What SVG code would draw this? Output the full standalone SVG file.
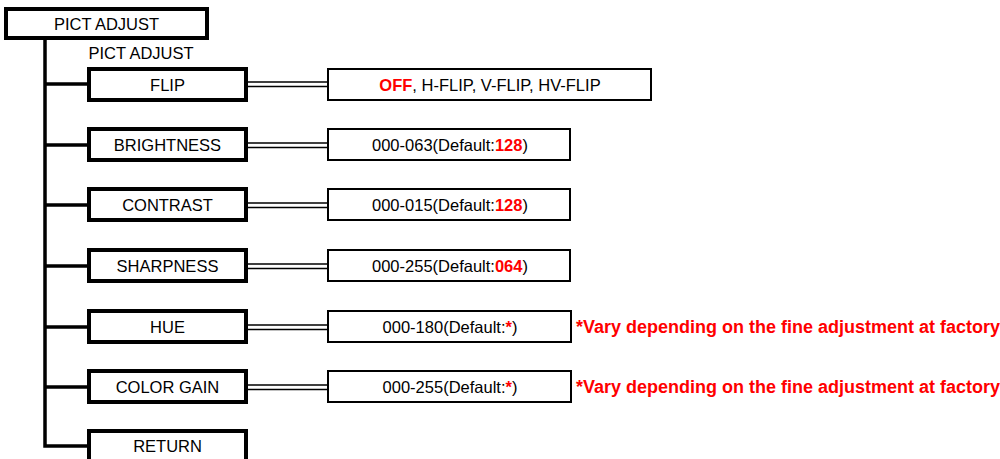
<svg xmlns="http://www.w3.org/2000/svg" width="1000" height="459" viewBox="0 0 1000 459">
<style>
text{font-family:"Liberation Sans",Arial,sans-serif;font-size:16.5px;fill:#000}
.node{fill:#fff;stroke:#000;stroke-width:4}
.val{fill:#fff;stroke:#000;stroke-width:2}
.tree{stroke:#000;stroke-width:3.5;fill:none}
.dbl{stroke:#000;stroke-width:1.6}
.red{fill:#ff0000;font-weight:bold}
.note{fill:#ff0000;font-weight:bold;font-size:18px}
</style>
<rect width="1000" height="459" fill="#fff"/>
<g id="connectors">
<path class="tree" d="M45 38V446H88M45 84H88M45 145H88M45 205H88M45 266H88M45 327H88M45 387H88"/>
<g class="dbl">
<line x1="248" y1="82" x2="328" y2="82"/><line x1="248" y1="86.5" x2="328" y2="86.5"/>
<line x1="248" y1="143" x2="328" y2="143"/><line x1="248" y1="147.5" x2="328" y2="147.5"/>
<line x1="248" y1="203" x2="328" y2="203"/><line x1="248" y1="207.5" x2="328" y2="207.5"/>
<line x1="248" y1="264" x2="328" y2="264"/><line x1="248" y1="268.5" x2="328" y2="268.5"/>
<line x1="248" y1="325" x2="328" y2="325"/><line x1="248" y1="329.5" x2="328" y2="329.5"/>
<line x1="248" y1="385" x2="328" y2="385"/><line x1="248" y1="389.5" x2="328" y2="389.5"/>
</g>
</g>
<g id="root"><rect class="node" x="6" y="9" width="201" height="29"/><text x="106.5" y="29.5" text-anchor="middle">PICT ADJUST</text></g>
<g id="sublabel"><text x="141" y="58.5" text-anchor="middle">PICT ADJUST</text></g>
<g id="flip"><rect class="node" x="89" y="69" width="157" height="31"/><text x="167.5" y="90.5" text-anchor="middle">FLIP</text></g>
<g id="flip-val"><rect class="val" x="328" y="69" width="323" height="31"/><text x="490" y="90.5" text-anchor="middle"><tspan class="red">OFF</tspan>, H-FLIP, V-FLIP, HV-FLIP</text></g>
<g id="brightness"><rect class="node" x="89" y="129" width="157" height="31"/><text x="167.5" y="150.5" text-anchor="middle">BRIGHTNESS</text></g>
<g id="brightness-val"><rect class="val" x="328" y="129" width="242" height="31"/><text x="450" y="150.5" text-anchor="middle">000-063(Default:<tspan class="red">128</tspan>)</text></g>
<g id="contrast"><rect class="node" x="89" y="189" width="157" height="31"/><text x="167.5" y="210.5" text-anchor="middle">CONTRAST</text></g>
<g id="contrast-val"><rect class="val" x="328" y="189" width="242" height="31"/><text x="450" y="210.5" text-anchor="middle">000-015(Default:<tspan class="red">128</tspan>)</text></g>
<g id="sharpness"><rect class="node" x="89" y="250" width="157" height="31"/><text x="167.5" y="271.5" text-anchor="middle">SHARPNESS</text></g>
<g id="sharpness-val"><rect class="val" x="328" y="250" width="242" height="31"/><text x="450" y="271.5" text-anchor="middle">000-255(Default:<tspan class="red">064</tspan>)</text></g>
<g id="hue"><rect class="node" x="89" y="311" width="157" height="31"/><text x="167.5" y="332.5" text-anchor="middle">HUE</text></g>
<g id="hue-val"><rect class="val" x="328" y="311" width="243" height="31"/><text x="450" y="332.5" text-anchor="middle">000-180(Default:<tspan class="red">*</tspan>)</text></g>
<g id="hue-note"><text class="note" x="576" y="333">*Vary depending on the fine adjustment at factory</text></g>
<g id="colorgain"><rect class="node" x="89" y="371" width="157" height="31"/><text x="167.5" y="392.5" text-anchor="middle">COLOR GAIN</text></g>
<g id="colorgain-val"><rect class="val" x="328" y="371" width="243" height="31"/><text x="450" y="392.5" text-anchor="middle">000-255(Default:<tspan class="red">*</tspan>)</text></g>
<g id="colorgain-note"><text class="note" x="576" y="393">*Vary depending on the fine adjustment at factory</text></g>
<g id="return"><rect class="node" x="89" y="431" width="157" height="34"/><text x="167.5" y="451.5" text-anchor="middle">RETURN</text></g>
</svg>
